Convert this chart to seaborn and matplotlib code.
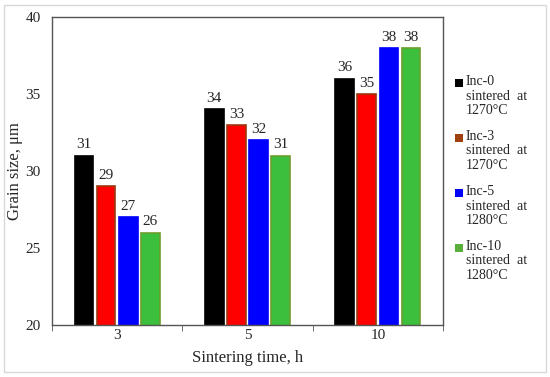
import matplotlib
matplotlib.use("Agg")
import matplotlib.pyplot as plt
import matplotlib.patches as mpatches
import seaborn as sns
import pandas as pd

times = ["3", "5", "10"]
series = ["Inc-0\nsintered  at\n1270°C", "Inc-3\nsintered  at\n1270°C",
          "Inc-5\nsintered  at\n1280°C", "Inc-10\nsintered  at\n1280°C"]
inc0 = [31, 34, 36]
inc3 = [29, 33, 35]
inc5 = [27, 32, 38]
inc10 = [26, 31, 38]

fills = ["#000000", "#FF0000", "#0000FF", "#3CBF3C"]
edges = ["#000000", "#9A3A10", "#0000FF", "#6E9E2E"]
legend_cols = ["#000000", "#A0400F", "#0000FF", "#5AAE3A"]

rows = []
for s, vals in zip(series, [inc0, inc3, inc5, inc10]):
    for t, v in zip(times, vals):
        rows.append({"time": t, "series": s, "size": v})
df = pd.DataFrame(rows)

sns.set_style("white")
plt.rcParams["font.family"] = ["Liberation Serif", "DejaVu Serif"]

fig = plt.figure(figsize=(5.5, 3.77), dpi=100)
ax = fig.add_axes([0.0945, 0.138, 0.711, 0.817])

sns.barplot(data=df, x="time", y="size", hue="series", order=times,
            hue_order=series, palette=fills, saturation=1, width=0.68, ax=ax,
            legend=False, errorbar=None)

for cont, ec in zip(ax.containers, edges):
    for bar in cont:
        w = bar.get_width()
        bar.set_width(w * 0.84)
        bar.set_x(bar.get_x() + w * 0.08)
        bar.set_edgecolor(ec)
        bar.set_linewidth(1.2)
    ax.bar_label(cont, fmt="%d", padding=3, fontsize=11)

ax.set_ylim(20, 40)
ax.set_yticks([20, 25, 30, 35, 40])
ax.set_xlim(-0.5, 2.5)
ax.set_xticks([0, 1, 2])
ax.set_xticks([-0.5, 0.5, 1.5, 2.5], minor=True)
ax.tick_params(axis="x", which="major", length=0, labelsize=11, pad=3)
ax.tick_params(axis="x", which="minor", length=4, direction="out", color="#555555", bottom=True)
ax.tick_params(axis="y", length=0, labelsize=11, pad=8)
for sp in ax.spines.values():
    sp.set_visible(True)
    sp.set_color("#555555")
    sp.set_linewidth(1.0)

ax.set_xlabel("Sintering time, h", fontsize=12, labelpad=6)
ax.set_ylabel("Grain size, μm", fontsize=12)
ax.yaxis.set_label_coords(-0.073, 0.5)

# legend: marker aligned with first line of each entry
for i, (c, s) in enumerate(zip(legend_cols, series)):
    ytop = 83 + 55 * i
    fig.patches.append(mpatches.Rectangle((455 / 550, 1 - (ytop + 4) / 377), 8 / 550, 8 / 377,
                                          transform=fig.transFigure, facecolor=c,
                                          edgecolor="none"))
    fig.text(466 / 550, 1 - (ytop - 8) / 377, s, ha="left", va="top", fontsize=10,
             linespacing=1.15)

fig.patches.append(mpatches.Rectangle((0.008, 0.013), 0.985, 0.975,
                                      transform=fig.transFigure, fill=False,
                                      edgecolor="#D8D8D8", linewidth=1))

fig.savefig("out.png", dpi=100)
